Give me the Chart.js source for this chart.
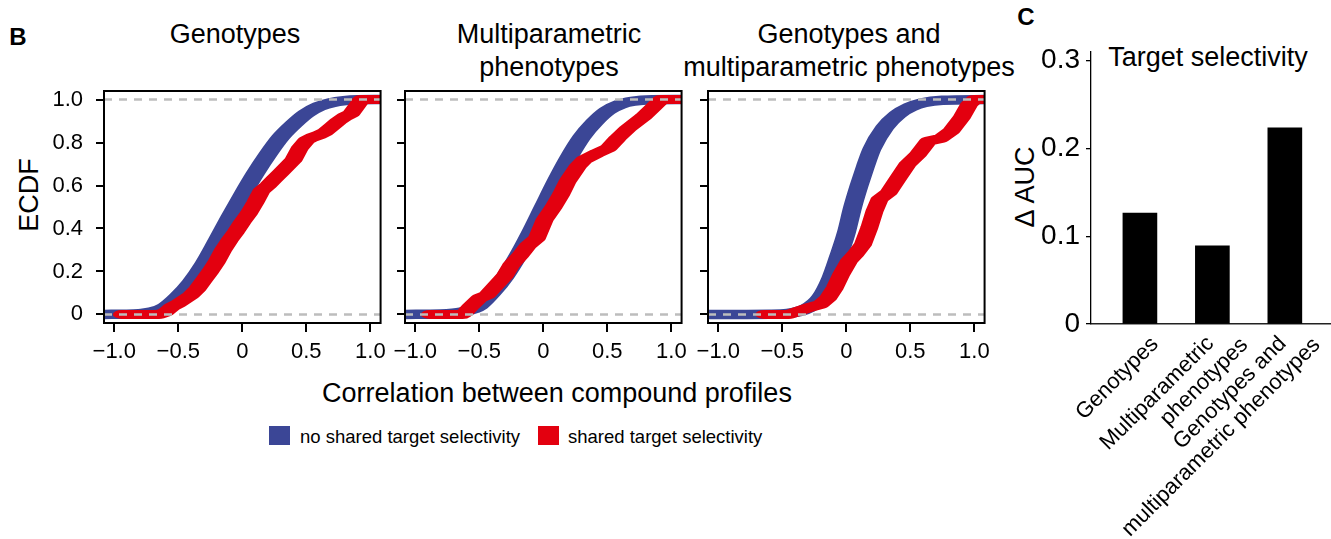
<!DOCTYPE html>
<html lang="en">
<head>
    <meta charset="UTF-8">
    <title>ECDF and target selectivity</title>
    <script src="https://cdn.jsdelivr.net/npm/chart.js"></script>
    <style>
        html, body {
            margin: 0;
            padding: 0;
            overflow: hidden;
            background: #fff;
        }
        body {
            position: relative;
            width: 1331px;
            height: 539px;
            font-family: "Liberation Sans", Arial, sans-serif;
            color: #000;
        }
        .box { position: absolute; }
        .txt {
            position: absolute;
            white-space: nowrap;
            line-height: 1;
            transform: translate(-50%, -50%);
        }
        .title {
            position: absolute;
            top: 18px;
            width: 400px;
            margin-left: -200px;
            text-align: center;
            font-size: 27px;
            line-height: 33px;
        }
        .vert { transform: translate(-50%, -50%) rotate(-90deg); }
        .swatch { position: absolute; width: 21px; height: 19px; top: 426px; }
        .leg { position: absolute; top: 437px; font-size: 18.5px; line-height: 1; transform: translateY(-50%); white-space: nowrap; }
    </style>
</head>
<body>

    <div class="txt" style="left:18px; top:37px; font-size:24px; font-weight:bold;">B</div>
    <div class="txt" style="left:1026px; top:17px; font-size:24px; font-weight:bold;">C</div>

    <div class="title" style="left:235px;">Genotypes</div>
    <div class="title" style="left:549px;">Multiparametric<br>phenotypes</div>
    <div class="title" style="left:849px;">Genotypes and<br>multiparametric phenotypes</div>

    <div class="txt vert" style="left:29px; top:195px; font-size:27px;">ECDF</div>
    <div class="txt" style="left:557px; top:393px; font-size:27px;">Correlation between compound profiles</div>

    <div class="swatch" style="left:269px; background:#3b4696;"></div>
    <div class="leg" style="left:300px;">no shared target selectivity</div>
    <div class="swatch" style="left:538px; background:#e3000f;"></div>
    <div class="leg" style="left:568px;">shared target selectivity</div>

    <div class="txt vert" style="left:1025px; top:187px; font-size:27px;">Δ AUC</div>
    <div class="txt" style="left:1208px; top:57px; font-size:27px;">Target selectivity</div>

    <!-- panel B: three ECDF plots -->
    <div class="box" style="left:0px; top:64px; width:393px; height:309px;"><canvas id="ecdf1"></canvas></div>
    <div class="box" style="left:385px; top:64px; width:309px; height:309px;"><canvas id="ecdf2"></canvas></div>
    <div class="box" style="left:688px; top:64px; width:309px; height:309px;"><canvas id="ecdf3"></canvas></div>

    <!-- panel C: delta AUC bars -->
    <div class="box" style="left:1000px; top:28px; width:351px; height:511px;"><canvas id="bars"></canvas></div>

    <script>
        // ECDF curves, [correlation, ECDF]
        const genoNoShared = [[-1.08,0],[-0.9,0.001],[-0.8,0.004],[-0.7,0.012],[-0.6,0.035],[-0.5,0.085],[-0.4,0.15],[-0.3,0.235],[-0.2,0.34],[-0.1,0.45],[0,0.555],[0.1,0.655],[0.2,0.745],[0.3,0.825],[0.4,0.885],[0.5,0.935],[0.6,0.968],[0.7,0.986],[0.8,0.995],[0.9,0.999],[1.08,1]];
        const genoShared = [[-0.94,0],[-0.65,0],[-0.6,0.01],[-0.55,0.035],[-0.5,0.05],[-0.45,0.07],[-0.4,0.09],[-0.35,0.12],[-0.3,0.16],[-0.25,0.2],[-0.2,0.245],[-0.15,0.3],[-0.1,0.345],[-0.05,0.385],[0,0.43],[0.05,0.47],[0.1,0.52],[0.15,0.575],[0.2,0.6],[0.25,0.63],[0.3,0.66],[0.35,0.69],[0.4,0.72],[0.45,0.775],[0.5,0.81],[0.55,0.825],[0.6,0.835],[0.65,0.85],[0.7,0.875],[0.75,0.9],[0.8,0.92],[0.85,0.935],[0.9,0.975],[0.93,1],[1.08,1]];

        const phenoNoShared = [[-1.08,0],[-0.8,0.002],[-0.7,0.006],[-0.63,0.012],[-0.55,0.025],[-0.5,0.04],[-0.4,0.1],[-0.3,0.175],[-0.2,0.27],[-0.1,0.38],[0,0.5],[0.1,0.62],[0.2,0.73],[0.3,0.825],[0.4,0.895],[0.5,0.948],[0.6,0.978],[0.7,0.992],[0.85,0.999],[1.08,1]];
        const phenoShared = [[-0.885,0],[-0.63,0],[-0.6,0.015],[-0.57,0.035],[-0.5,0.075],[-0.44,0.09],[-0.37,0.135],[-0.3,0.18],[-0.25,0.23],[-0.18,0.275],[-0.12,0.32],[-0.05,0.355],[0.01,0.44],[0.08,0.5],[0.14,0.56],[0.19,0.62],[0.27,0.69],[0.32,0.72],[0.42,0.75],[0.51,0.775],[0.58,0.82],[0.66,0.865],[0.78,0.92],[0.86,0.965],[0.92,1],[1.08,1]];

        const bothNoShared = [[-1.08,0],[-0.6,0.001],[-0.45,0.005],[-0.3,0.03],[-0.2,0.08],[-0.12,0.17],[-0.06,0.27],[0,0.38],[0.05,0.5],[0.1,0.6],[0.15,0.69],[0.2,0.77],[0.3,0.87],[0.4,0.93],[0.5,0.965],[0.6,0.985],[0.75,0.997],[1.08,1]];
        const bothShared = [[-0.64,0],[-0.45,0],[-0.37,0.016],[-0.3,0.03],[-0.2,0.047],[-0.14,0.078],[-0.09,0.124],[-0.04,0.186],[0.02,0.248],[0.07,0.28],[0.13,0.326],[0.18,0.404],[0.22,0.48],[0.26,0.536],[0.33,0.567],[0.4,0.63],[0.48,0.7],[0.56,0.745],[0.64,0.807],[0.74,0.82],[0.82,0.854],[0.9,0.916],[0.96,0.978],[1.0,1],[1.08,1]];

        const xTicks = [-1, -0.5, 0, 0.5, 1];
        const xTickLabels = ['\u22121.0', '\u22120.5', '0', '0.5', '1.0'];
        const yTicks = [0, 0.2, 0.4, 0.6, 0.8, 1];
        const yTickLabels = ['0', '0.2', '0.4', '0.6', '0.8', '1.0'];
        const refLevels = [0, 1];

        // panel C
        const methodLabels = [['Genotypes'], ['Multiparametric', 'phenotypes'], ['Genotypes and', 'multiparametric phenotypes']];
        const deltaAuc = [0.1265, 0.089, 0.2237];
        const aucTicks = [0, 0.1, 0.2, 0.3];
        const aucTickLabels = ['0', '0.1', '0.2', '0.3'];

        const BLUE = '#3b4696';
        const RED = '#e3000f';
        const X_MIN = -1.08, X_MAX = 1.08;
        const PEN_STRETCH = 2;   // the original curves use a pen twice as wide as it is tall

        Chart.defaults.font.family = '"Liberation Sans", Arial, sans-serif';
        Chart.defaults.color = '#000';

        const toPoints = arr => arr.map(p => ({ x: p[0], y: p[1] }));

        // black box around each plot area
        const frame = {
            id: 'frame',
            afterDraw(chart) {
                const a = chart.chartArea, c = chart.ctx;
                c.save();
                c.strokeStyle = '#000';
                c.lineWidth = 2;
                c.strokeRect(a.left, a.top, a.right - a.left, a.bottom - a.top);
                c.restore();
            }
        };

        // stroke the ECDF lines with a flat, wide pen: path is built first,
        // then the transform is stretched only for the stroke width
        const widePen = {
            id: 'widePen',
            beforeDatasetDraw(chart, args) {
                const ds = chart.data.datasets[args.index];
                if (!ds.widePen) return;
                const meta = args.meta, line = meta.dataset, a = chart.chartArea, c = chart.ctx;
                line.updateControlPoints(a, 'x');
                const pts = line.points;
                c.save();
                c.beginPath();
                c.rect(a.left, a.top, a.right - a.left, a.bottom - a.top);
                c.clip();
                c.beginPath();
                pts.forEach((p, i) => {
                    if (i === 0) { c.moveTo(p.x, p.y); return; }
                    const q = pts[i - 1];
                    if (q.cp2x !== undefined && p.cp1x !== undefined) {
                        c.bezierCurveTo(q.cp2x, q.cp2y, p.cp1x, p.cp1y, p.x, p.y);
                    } else {
                        c.lineTo(p.x, p.y);
                    }
                });
                c.setTransform(PEN_STRETCH, 0, 0, 1, 0, 0);
                c.lineWidth = ds.borderWidth;
                c.strokeStyle = ds.borderColor;
                c.lineCap = 'round';
                c.lineJoin = 'round';
                c.stroke();
                c.restore();
                return false;
            }
        };

        function ecdfChart(id, noShared, shared, showYLabels, yWidth) {
            const refSets = refLevels.map(v => ({
                data: [{ x: X_MIN, y: v }, { x: X_MAX, y: v }],
                borderColor: '#bdbdbd', borderWidth: 2.5, borderDash: [8, 7],
                pointRadius: 0, clip: 0
            }));
            new Chart(document.getElementById(id), {
                type: 'line',
                data: {
                    datasets: refSets.concat([
                        {
                            label: 'shared target selectivity', data: toPoints(shared),
                            borderColor: RED, borderWidth: 9, pointRadius: 0, widePen: true
                        },
                        {
                            label: 'no shared target selectivity', data: toPoints(noShared),
                            borderColor: BLUE, borderWidth: 9.5, pointRadius: 0,
                            cubicInterpolationMode: 'monotone', widePen: true
                        }
                    ])
                },
                options: {
                    responsive: true,
                    maintainAspectRatio: false,
                    animation: false,
                    layout: { padding: { top: 27, right: 10, left: 0, bottom: 0 } },
                    plugins: { legend: { display: false }, tooltip: { enabled: false } },
                    scales: {
                        x: {
                            type: 'linear', min: X_MIN, max: X_MAX,
                            afterBuildTicks: s => { s.ticks = xTicks.map(v => ({ value: v })); },
                            afterFit: s => { s.height = 50; },
                            ticks: {
                                callback: (v, i) => xTickLabels[i],
                                font: { size: 22 }, padding: 7, autoSkip: false, maxRotation: 0
                            },
                            grid: { drawOnChartArea: false, tickLength: 9, color: '#000', lineWidth: 2 },
                            border: { display: false }
                        },
                        y: {
                            min: -0.04, max: 1.04,
                            afterBuildTicks: s => { s.ticks = yTicks.map(v => ({ value: v })); },
                            afterFit: s => { s.width = yWidth; },
                            ticks: {
                                display: showYLabels,
                                callback: (v, i) => yTickLabels[i],
                                font: { size: 22 }, padding: 13, autoSkip: false
                            },
                            grid: { drawOnChartArea: false, tickLength: 8, color: '#000', lineWidth: 2 },
                            border: { display: false }
                        }
                    }
                },
                plugins: [widePen, frame]
            });
        }

        ecdfChart('ecdf1', genoNoShared, genoShared, true, 104);
        ecdfChart('ecdf2', phenoNoShared, phenoShared, false, 20);
        ecdfChart('ecdf3', bothNoShared, bothShared, false, 20);

        // rotated category names under the bars, lines stepped sideways like the original
        const slantLabels = {
            id: 'slantLabels',
            afterDraw(chart) {
                const xs = chart.scales.x, c = chart.ctx;
                c.save();
                c.fillStyle = '#000';
                c.font = '22px "Liberation Sans", Arial, sans-serif';
                c.textAlign = 'right';
                c.textBaseline = 'middle';
                methodLabels.forEach((lines, i) => {
                    const x0 = xs.getPixelForValue(i) + 15;
                    const y0 = xs.top + 17;
                    lines.forEach((txt, j) => {
                        const k = j - (lines.length - 1) / 2;
                        c.save();
                        c.translate(x0 + k * 34, y0 + k * 1.5);
                        c.rotate(-Math.PI / 4);
                        c.fillText(txt, 0, 0);
                        c.restore();
                    });
                });
                c.restore();
            }
        };

        // bars on a linear index so the y axis can sit left of the first bar
        new Chart(document.getElementById('bars'), {
            type: 'bar',
            data: {
                datasets: [{
                    label: '\u0394 AUC',
                    data: deltaAuc.map((v, i) => ({ x: i, y: v })),
                    backgroundColor: '#000',
                    barThickness: 34
                }]
            },
            options: {
                responsive: true,
                maintainAspectRatio: false,
                animation: false,
                layout: { padding: { top: 24, right: 20, left: 0, bottom: 0 } },
                plugins: { legend: { display: false }, tooltip: { enabled: false } },
                scales: {
                    x: {
                        type: 'linear', min: -0.675, max: 2.637, offset: false,
                        afterBuildTicks: s => { s.ticks = methodLabels.map((m, i) => ({ value: i })); },
                        afterFit: s => { s.height = 215; },
                        ticks: { display: false },
                        grid: { display: false, drawTicks: false },
                        border: { display: true, color: '#222', width: 1.5 }
                    },
                    y: {
                        min: 0, max: 0.31,
                        afterBuildTicks: s => { s.ticks = aucTicks.map(v => ({ value: v })); },
                        afterFit: s => { s.width = 91; },
                        ticks: {
                            callback: (v, i) => aucTickLabels[i],
                            font: { size: 28 }, padding: 6, autoSkip: false
                        },
                        grid: { drawOnChartArea: false, tickLength: 5, color: '#000', lineWidth: 1.3 },
                        border: { display: true, color: '#000', width: 1.3 }
                    }
                }
            },
            plugins: [slantLabels]
        });
    </script>

</body>
</html>
